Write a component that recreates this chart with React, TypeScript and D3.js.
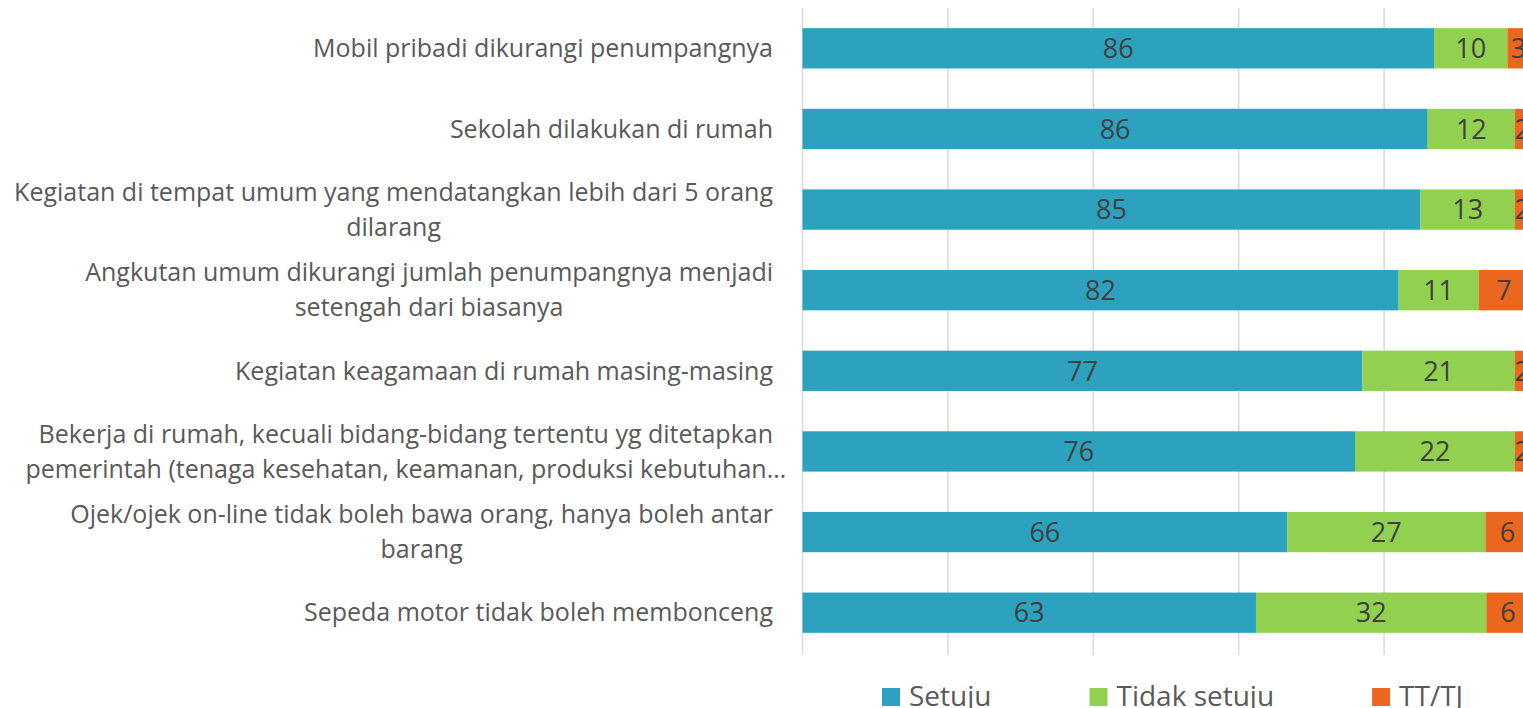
import React from "react";
import * as d3 from "d3";

// Categories (top to bottom), lines already wrapped like the original
const categories: string[][] = [
    ["Mobil pribadi dikurangi penumpangnya"],
    ["Sekolah dilakukan di rumah"],
    ["Kegiatan di tempat umum yang mendatangkan lebih dari 5 orang", "dilarang"],
    ["Angkutan umum dikurangi jumlah penumpangnya menjadi", "setengah dari biasanya"],
    ["Kegiatan keagamaan di rumah masing-masing"],
    ["Bekerja di rumah, kecuali bidang-bidang tertentu yg ditetapkan", "pemerintah (tenaga kesehatan, keamanan, produksi kebutuhan…"],
    ["Ojek/ojek on-line tidak boleh bawa orang, hanya boleh antar", "barang"],
    ["Sepeda motor tidak boleh membonceng"],
];

const setuju: number[] = [86, 86, 85, 82, 77, 76, 66, 63];
const tidakSetuju: number[] = [10, 12, 13, 11, 21, 22, 27, 32];
const ttTj: number[] = [3, 2, 2, 7, 2, 2, 6, 6];

const seriesNames: string[] = ["Setuju", "Tidak setuju", "TT/TJ"];
const seriesColors: string[] = ["#2DA2BF", "#92D050", "#EB671D"];

const width = 1523;
const height = 708;
const plotLeft = 802.5;
const plotRight = 1529.5;
const plotTop = 8;
const plotBottom = 653;
const labelRight = 773;
const lineHeight = 35;

const FONT = "'Open Sans', 'DejaVu Sans', sans-serif";
const labelSize = 25;
const valueSize = 27;
const legendSize = 28;

const ctx = document.createElement("canvas").getContext("2d")!;
const measure = (text: string, size: number): number => {
    ctx.font = `${size}px ${FONT}`;
    return ctx.measureText(text).width;
};

const App: React.FC = () => {
    const rows = categories.map((c, i) => ({
        idx: String(i),
        s: setuju[i],
        t: tidakSetuju[i],
        o: ttTj[i],
    }));
    const keys = ["s", "t", "o"];
    const raw = [setuju, tidakSetuju, ttTj];

    // 100% stacked
    const stacked = d3.stack<any>().keys(keys).offset(d3.stackOffsetExpand)(rows);

    const xScale = d3.scaleLinear().domain([0, 1]).range([plotLeft, plotRight]);
    const yScale = d3.scaleBand<string>()
        .domain(rows.map(r => r.idx))
        .range([plotTop, plotBottom])
        .paddingInner(0.5)
        .paddingOuter(0.25);

    // legend layout
    const legendY = 696;
    const legendGap = 98;
    let lx = 882;
    const legendItems = seriesNames.map((name, i) => {
        const item = { name, color: seriesColors[i], x: lx };
        lx += 27 + measure(name, legendSize) + legendGap;
        return item;
    });

    return (
        <svg width={width} height={height} style={{ position: "absolute", left: 0, top: 0, background: "#fff" }} fontFamily={FONT}>
            {/* Grid lines */}
            {xScale.ticks(5).map(t => (
                <line key={t} x1={xScale(t)} x2={xScale(t)} y1={plotTop} y2={plotBottom + 2} stroke="#D9D9D9" strokeWidth={1.5} />
            ))}

            {/* Bars */}
            {stacked.map((layer, si) => (
                <g key={layer.key} fill={seriesColors[si]}>
                    {layer.map((d, i) => (
                        <rect
                            key={i}
                            x={xScale(d[0])}
                            y={yScale(String(i))}
                            width={xScale(d[1]) - xScale(d[0])}
                            height={yScale.bandwidth()}
                        />
                    ))}
                </g>
            ))}

            {/* Value labels */}
            {stacked.map((layer, si) => (
                <g key={`v-${layer.key}`} fill="#404040" fontSize={valueSize} textAnchor="middle">
                    {layer.map((d, i) => (
                        <text
                            key={i}
                            x={(xScale(d[0]) + xScale(d[1])) / 2}
                            y={yScale(String(i))! + yScale.bandwidth() / 2}
                            dy="0.36em"
                        >
                            {raw[si][i]}
                        </text>
                    ))}
                </g>
            ))}

            {/* Category labels */}
            <g fill="#595959" fontSize={labelSize}>
                {categories.map((lines, i) => {
                    const cy = yScale(String(i))! + yScale.bandwidth() / 2;
                    const w0 = measure(lines[0], labelSize);
                    const center = labelRight - w0 / 2;
                    return lines.map((line, li) => (
                        <text
                            key={`${i}-${li}`}
                            x={li === 0 ? labelRight : center}
                            y={cy + (li - (lines.length - 1) / 2) * lineHeight}
                            dy="0.35em"
                            textAnchor={li === 0 ? "end" : "middle"}
                        >
                            {line}
                        </text>
                    ));
                })}
            </g>

            {/* Legend */}
            {legendItems.map(item => (
                <g key={item.name}>
                    <rect x={item.x} y={legendY - 8} width={18} height={18} fill={item.color} />
                    <text x={item.x + 27} y={legendY} dy="0.35em" fontSize={legendSize} fill="#595959">{item.name}</text>
                </g>
            ))}
        </svg>
    );
};

export default App;
